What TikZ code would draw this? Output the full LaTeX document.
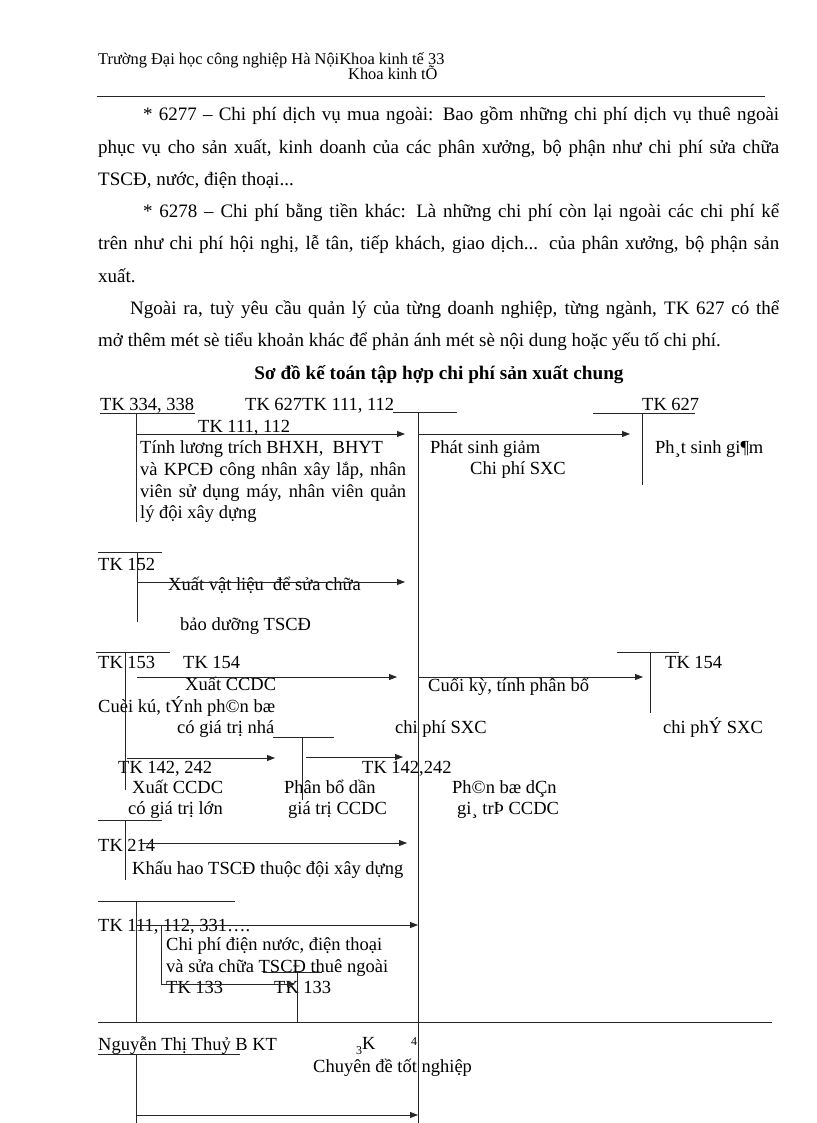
\documentclass[tikz,border=0pt]{standalone}
\usepackage{fontspec}
\setmainfont{Liberation Serif}
\usetikzlibrary{arrows.meta}
\newcommand\hdfont{\fontsize{16.4}{18}\selectfont}
\newcommand\pfont{\fontsize{19}{22}\selectfont}
\newcommand\tifont{\fontsize{19.2}{22}\selectfont}
\newcommand\dgfont{\fontsize{18.5}{22}\selectfont}
\newcommand\smfont{\fontsize{12}{14}\selectfont}
\tikzset{
  hd/.style={anchor=base west, inner sep=0pt, font=\hdfont},
  par/.style={anchor=base west, inner sep=0pt, font=\pfont},
  txt/.style={anchor=base west, inner sep=0pt, font=\dgfont},
  ln/.style={draw=black!85, line width=0.8pt},
  arr/.style={ln, -{Triangle[length=8pt,width=6pt]}},
}
\begin{document}
\begin{tikzpicture}[x=1pt,y=-1pt]
\useasboundingbox[fill=white] (0,0) rectangle (816,1123);
% header
\node[hd] (h1) at (98,65) {Trường Đại học công nghiệp Hà NộiKhoa kinh tế 33};
\node[hd] (h2) at (348,80) {Khoa kinh tÕ};
\coordinate (hl1) at (97,96); \coordinate (hl2) at (765,96);
\draw[ln] (hl1) -- (hl2);
% paragraphs
\node[par] (p1) at (143,121) {\makebox[636pt][s]{* 6277 – Chi phí dịch vụ mua ngoài: Bao gồm những chi phí dịch vụ thuê ngoài}};
\node[par] (p2) at (98,154) {\makebox[681pt][s]{phục vụ cho sản xuất, kinh doanh của các phân xưởng, bộ phận như chi phí sửa chữa}};
\node[par] (p3) at (98,186) {TSCĐ, nước, điện thoại...};
\node[par] (p4) at (143,218) {\makebox[636pt][s]{* 6278 – Chi phí bằng tiền khác: Là những chi phí còn lại ngoài các chi phí kể}};
\node[par] (p5) at (98,250) {\makebox[681pt][s]{trên như chi phí hội nghị, lễ tân, tiếp khách, giao dịch... của phân xưởng, bộ phận sản}};
\node[par] (p6) at (98,282) {xuất.};
\node[par] (p7) at (130,314) {\makebox[649pt][s]{Ngoài ra, tuỳ yêu cầu quản lý của từng doanh nghiệp, từng ngành, TK 627 có thể}};
\node[par] (p8) at (98,346) {mở thêm mét sè tiểu khoản khác để phản ánh mét sè nội dung hoặc yếu tố chi phí.};
\node[anchor=base, inner sep=0pt, font=\tifont\bfseries] (title) at (439,379) {Sơ đồ kế toán tập hợp chi phí sản xuất chung};
% diagram texts
\node[txt] (tk334) at (100,410) {TK 334, 338};
\node[txt] (tk627a) at (245,410) {TK 627TK 111, 112};
\node[txt] (tk111a) at (198,432) {TK 111, 112};
\node[txt] (d1) at (140,453) {Tính lương trích BHXH,\ \ BHYT};
\node[txt] (d2) at (140,475) {\makebox[266pt][s]{và KPCĐ công nhân xây lắp, nhân}};
\node[txt] (d3) at (140,497) {\makebox[266pt][s]{viên sử dụng máy, nhân viên quản}};
\node[txt] (d4) at (140,518) {lý đội xây dựng};
\node[txt] (psg) at (430,453) {Phát sinh giảm};
\node[txt] (cps) at (470,474) {Chi phí SXC};
\node[txt] (tk627b) at (642,410) {TK 627};
\node[txt] (psg2) at (655,453) {Ph¸t sinh gi¶m};
\node[txt] (tk152) at (98,570) {TK 152};
\node[txt] (xvl) at (168,590) {Xuất vật liệu\ \ để sửa chữa};
\node[txt] (bd) at (180,630) {bảo dưỡng TSCĐ};
\node[txt] (tk153) at (98,668) {TK 153};
\node[txt] (tk154a) at (183,668) {TK 154};
\node[txt] (xc1) at (185,690) {Xuất CCDC};
\node[txt] (cuoi) at (98,712) {Cuèi kú, tÝnh ph©n bæ};
\node[txt] (cgtn) at (177,733) {có giá trị nhá};
\node[txt] (cpsxc) at (395,733) {chi phí SXC};
\node[txt] (cuoi2) at (428,691) {Cuối kỳ, tính phân bổ};
\node[txt] (tk154b) at (665,668) {TK 154};
\node[txt] (cps2) at (663,733) {chi phÝ SXC};
\node[txt] (tk142a) at (118,773) {TK 142, 242};
\node[txt] (tk142b) at (362,773) {TK 142,242};
\node[txt] (xc2) at (132,793) {Xuất CCDC};
\node[txt] (cgtl) at (128,814) {có giá trị lớn};
\node[txt] (pbd) at (284,793) {Phân bổ dần};
\node[txt] (gtc) at (288,814) {giá trị CCDC};
\node[txt] (pbd2) at (452,793) {Ph©n bæ dÇn};
\node[txt] (gtc2) at (457,814) {gi¸ trÞ CCDC};
\node[txt] (tk214) at (98,851) {TK 214};
\node[txt] (khau) at (132,874) {Khấu hao TSCĐ thuộc đội xây dựng};
\node[txt] (tk111b) at (98,931) {TK 111, 112, 331….};
\node[txt] (cpd) at (166,950) {Chi phí điện nước, điện thoại};
\node[txt] (vsc) at (166,972) {và sửa chữa TSCĐ thuê ngoài};
\node[txt] (tk133a) at (166,993) {TK 133};
\node[txt] (tk133b) at (274,993) {TK 133};
% footer
\node[txt] (name) at (98,1050) {Nguyễn Thị Thuỷ B KT};
\node[txt] (k3) at (356,1049) {\raisebox{-5pt}{\smfont 3}K};
\node[anchor=base west, inner sep=0pt, font=\smfont] (four) at (411,1045) {4};
\node[txt] (cdtn) at (313,1072) {Chuyên đề tốt nghiệp};
% coordinates
\coordinate (u1a) at (100,413); \coordinate (u1b) at (195,413);
\coordinate (v1a) at (136,413); \coordinate (v1b) at (136,522);
\coordinate (t1a) at (393,412); \coordinate (t1b) at (457,412);
\coordinate (mva) at (418,412); \coordinate (mvb) at (418,1123);
\coordinate (a1s) at (136,434); \coordinate (a1e) at (405,434);
\coordinate (a2s) at (418,434); \coordinate (a2e) at (630,434);
\coordinate (r1a) at (593,413); \coordinate (r1b) at (695,413);
\coordinate (r1c) at (642,413); \coordinate (r1d) at (642,485);
\coordinate (b2a) at (98,552); \coordinate (b2b) at (162,552);
\coordinate (v2a) at (137,552); \coordinate (v2b) at (137,622);
\coordinate (a3s) at (137,582); \coordinate (a3e) at (405,582);
\coordinate (b3a) at (96,652); \coordinate (b3b) at (170,652);
\coordinate (v3a) at (125,652); \coordinate (v3b) at (125,790);
\coordinate (a4s) at (137,677); \coordinate (a4e) at (397,677);
\coordinate (a5s) at (418,677); \coordinate (a5e) at (643,677);
\coordinate (r2a) at (617,652); \coordinate (r2b) at (679,652);
\coordinate (r2c) at (650,652); \coordinate (r2d) at (650,713);
\coordinate (s1a) at (273,737); \coordinate (s1b) at (334,737);
\coordinate (s1c) at (302,737); \coordinate (s1d) at (302,800);
\coordinate (a6s) at (127,758); \coordinate (a6e) at (275,758);
\coordinate (a7s) at (306,757); \coordinate (a7e) at (403,757);
\coordinate (b4a) at (98,820); \coordinate (b4b) at (162,820);
\coordinate (v4a) at (125,820); \coordinate (v4b) at (125,880);
\coordinate (a8s) at (140,843); \coordinate (a8e) at (407,843);
\coordinate (b5a) at (98,901); \coordinate (b5b) at (235,901);
\coordinate (v5a) at (136,901); \coordinate (v5b) at (136,1022);
\coordinate (a9s) at (136,925); \coordinate (a9e) at (418,925);
\coordinate (v6a) at (161,925); \coordinate (v6b) at (161,985);
\coordinate (a10s) at (161,984); \coordinate (a10e) at (295,984);
\coordinate (b6a) at (263,972); \coordinate (b6b) at (322,972);
\coordinate (v7a) at (297,972); \coordinate (v7b) at (297,1022);
\coordinate (fla) at (98,1022); \coordinate (flb) at (772,1022);
\coordinate (u2a) at (98,1054); \coordinate (u2b) at (240,1054);
\coordinate (v8a) at (136,1054); \coordinate (v8b) at (136,1123);
\coordinate (a11s) at (136,1115); \coordinate (a11e) at (418,1115);
% lines
\draw[ln] (u1a) -- (u1b);
\draw[ln] (v1a) -- (v1b);
\draw[ln] (t1a) -- (t1b);
\draw[ln] (mva) -- (mvb);
\draw[arr] (a1s) -- (a1e);
\draw[arr] (a2s) -- (a2e);
\draw[ln] (r1a) -- (r1b);
\draw[ln] (r1c) -- (r1d);
\draw[ln] (b2a) -- (b2b);
\draw[ln] (v2a) -- (v2b);
\draw[arr] (a3s) -- (a3e);
\draw[ln] (b3a) -- (b3b);
\draw[ln] (v3a) -- (v3b);
\draw[arr] (a4s) -- (a4e);
\draw[arr] (a5s) -- (a5e);
\draw[ln] (r2a) -- (r2b);
\draw[ln] (r2c) -- (r2d);
\draw[ln] (s1a) -- (s1b);
\draw[ln] (s1c) -- (s1d);
\draw[arr] (a6s) -- (a6e);
\draw[arr] (a7s) -- (a7e);
\draw[ln] (b4a) -- (b4b);
\draw[ln] (v4a) -- (v4b);
\draw[arr] (a8s) -- (a8e);
\draw[ln] (b5a) -- (b5b);
\draw[ln] (v5a) -- (v5b);
\draw[arr] (a9s) -- (a9e);
\draw[ln] (v6a) -- (v6b);
\draw[arr] (a10s) -- (a10e);
\draw[ln] (b6a) -- (b6b);
\draw[ln] (v7a) -- (v7b);
\draw[ln] (fla) -- (flb);
\draw[ln] (u2a) -- (u2b);
\draw[ln] (v8a) -- (v8b);
\draw[arr] (a11s) -- (a11e);
\end{tikzpicture}
\end{document}
